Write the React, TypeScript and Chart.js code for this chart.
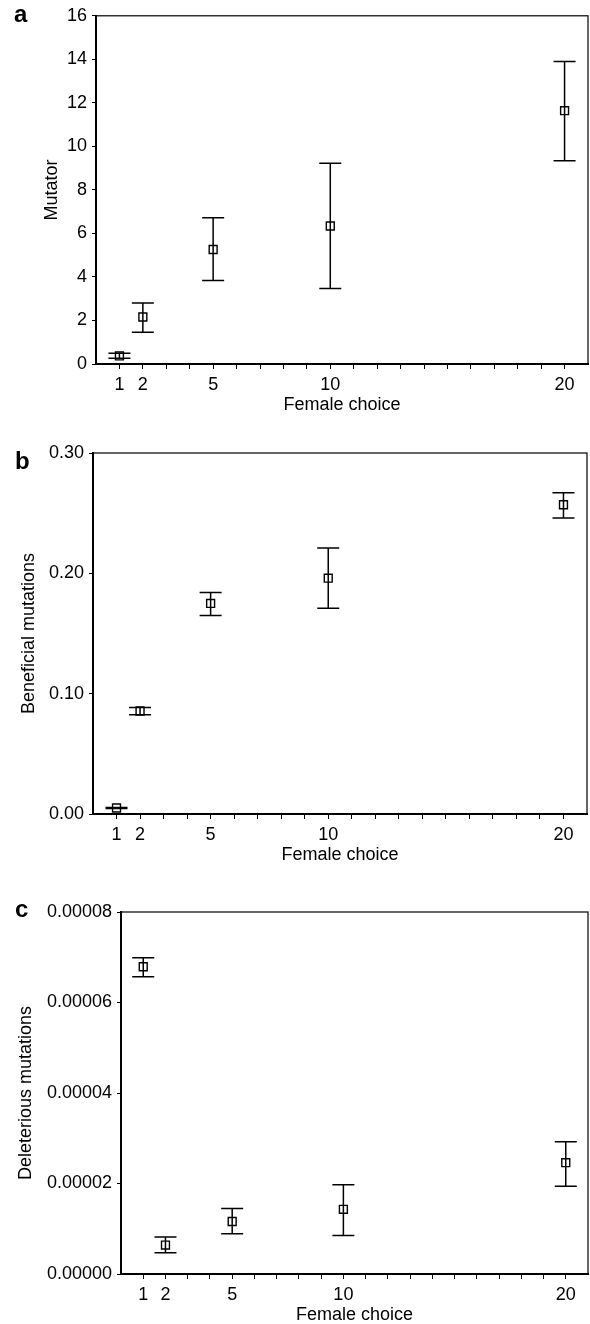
import React, { useEffect, useRef } from 'react';
import { Chart, registerables } from 'chart.js';

Chart.register(...registerables);

// ---- data ----
const femaleChoice = [1, 2, 5, 10, 20];

const mutatorMean = [0.37, 2.16, 5.26, 6.34, 11.64];
const mutatorLow = [0.26, 1.46, 3.84, 3.47, 9.34];
const mutatorHigh = [0.49, 2.8, 6.72, 9.23, 13.9];

const beneficialMean = [0.005, 0.0856, 0.175, 0.196, 0.257];
const beneficialLow = [0.0045, 0.0825, 0.165, 0.171, 0.246];
const beneficialHigh = [0.0055, 0.0886, 0.184, 0.221, 0.267];

const deleteriousMean = [0.0000679, 0.0000064, 0.0000116, 0.0000143, 0.0000246];
const deleteriousLow = [0.0000657, 0.0000047, 0.0000089, 0.0000085, 0.0000194];
const deleteriousHigh = [0.0000699, 0.0000082, 0.0000145, 0.0000197, 0.0000292];

const xTickValues = [1, 2, 3, 4, 5, 6, 7, 8, 9, 10, 11, 12, 13, 14, 15, 16, 17, 18, 19, 20];
const xLabelValues = [1, 2, 5, 10, 20];
const mutatorTicks = [0, 2, 4, 6, 8, 10, 12, 14, 16];
const beneficialTicks = [0, 0.1, 0.2, 0.3];
const deleteriousTicks = [0, 0.00002, 0.00004, 0.00006, 0.00008];

const FONT = '"Liberation Sans", Arial, Helvetica, sans-serif';
const W = 590;

type Panel = {
  letter: string;
  yTitle: string;
  mean: number[];
  low: number[];
  high: number[];
  yTicks: number[];
  yDecimals: number;
  canvasTop: number;
  canvasHeight: number;
  chartLeft: number;
  chartRight: number;
  chartTop: number;
  chartBottom: number;
  yTitlePad: number;
  xTitlePad: number;
  letterX: number;
  letterBaseline: number;
};

const panels: Panel[] = [
  {
    letter: 'a', yTitle: 'Mutator', mean: mutatorMean, low: mutatorLow, high: mutatorHigh,
    yTicks: mutatorTicks, yDecimals: 0,
    canvasTop: 0, canvasHeight: 430, chartLeft: 96, chartRight: 588, chartTop: 14, chartBottom: 364,
    yTitlePad: 43, xTitlePad: 16, letterX: 14, letterBaseline: 22,
  },
  {
    letter: 'b', yTitle: 'Beneficial mutations', mean: beneficialMean, low: beneficialLow, high: beneficialHigh,
    yTicks: beneficialTicks, yDecimals: 2,
    canvasTop: 430, canvasHeight: 445, chartLeft: 93, chartRight: 587, chartTop: 453, chartBottom: 814,
    yTitlePad: 20, xTitlePad: 11, letterX: 15, letterBaseline: 469,
  },
  {
    letter: 'c', yTitle: 'Deleterious mutations', mean: deleteriousMean, low: deleteriousLow, high: deleteriousHigh,
    yTicks: deleteriousTicks, yDecimals: 5,
    canvasTop: 875, canvasHeight: 449, chartLeft: 121, chartRight: 588, chartTop: 912, chartBottom: 1274,
    yTitlePad: 17, xTitlePad: 0, letterX: 15, letterBaseline: 917,
  },
];

function makePlugin(p: Panel) {
  return {
    id: 'errbars' + p.letter,
    afterDatasetsDraw(chart: any) {
      const { ctx, chartArea } = chart;
      const x = chart.scales.x;
      const y = chart.scales.y;
      ctx.save();
      ctx.strokeStyle = '#000';
      ctx.lineWidth = 1.2;
      ctx.strokeRect(chartArea.left, chartArea.top, chartArea.right - chartArea.left, chartArea.bottom - chartArea.top);
      ctx.lineWidth = 1.5;
      femaleChoice.forEach((fx, i) => {
        const px = x.getPixelForValue(fx);
        const yl = y.getPixelForValue(p.low[i]);
        const yh = y.getPixelForValue(p.high[i]);
        ctx.beginPath();
        ctx.moveTo(px, yl);
        ctx.lineTo(px, yh);
        ctx.moveTo(px - 11, yl);
        ctx.lineTo(px + 11, yl);
        ctx.moveTo(px - 11, yh);
        ctx.lineTo(px + 11, yh);
        ctx.stroke();
      });
      ctx.font = `bold 24px ${FONT}`;
      ctx.fillStyle = '#000';
      ctx.textAlign = 'left';
      ctx.textBaseline = 'alphabetic';
      ctx.fillText(p.letter, p.letterX, p.letterBaseline - p.canvasTop);
      ctx.restore();
    },
  };
}

function PanelChart({ p }: { p: Panel }) {
  const ref = useRef<HTMLCanvasElement>(null);
  useEffect(() => {
    if (!ref.current) return;
    const chart = new Chart(ref.current, {
      type: 'scatter',
      data: {
        datasets: [
          {
            data: femaleChoice.map((fx, i) => ({ x: fx, y: p.mean[i] })),
            pointStyle: 'rect',
            pointRadius: 5.6,
            pointBackgroundColor: 'rgba(0,0,0,0)',
            pointBorderColor: '#000',
            pointBorderWidth: 1.4,
            showLine: false,
          },
        ],
      },
      options: {
        animation: false,
        responsive: false,
        maintainAspectRatio: false,
        events: [],
        layout: {
          autoPadding: false,
          padding: { left: 0, right: W - p.chartRight, top: p.chartTop - p.canvasTop, bottom: 0 },
        },
        plugins: { legend: { display: false }, tooltip: { enabled: false } },
        scales: {
          x: {
            type: 'linear',
            min: 0,
            max: 21,
            afterFit: (s: any) => { s.height = p.canvasTop + p.canvasHeight - p.chartBottom; },
            afterBuildTicks: (s: any) => { s.ticks = xTickValues.map((v) => ({ value: v })); },
            ticks: {
              autoSkip: false,
              maxRotation: 0,
              padding: 5,
              color: '#000',
              font: { family: FONT, size: 18 },
              callback: (v: any) => (xLabelValues.includes(Number(v)) ? String(v) : ''),
            },
            grid: { display: true, drawOnChartArea: false, drawTicks: true, tickLength: 5, color: '#000', lineWidth: 1 },
            border: { display: true, color: '#000', width: 2 },
            title: {
              display: true,
              text: 'Female choice',
              color: '#000',
              font: { family: FONT, size: 18, lineHeight: 1 },
              padding: { top: 0, bottom: p.xTitlePad },
            },
          },
          y: {
            type: 'linear',
            min: p.yTicks[0],
            max: p.yTicks[p.yTicks.length - 1],
            afterFit: (s: any) => { s.width = p.chartLeft; },
            afterBuildTicks: (s: any) => { s.ticks = p.yTicks.map((v) => ({ value: v })); },
            ticks: {
              autoSkip: false,
              padding: 5,
              color: '#000',
              font: { family: FONT, size: 18 },
              callback: (v: any) => Number(v).toFixed(p.yDecimals),
            },
            grid: { display: true, drawOnChartArea: false, drawTicks: true, tickLength: 4, color: '#000', lineWidth: 1 },
            border: { display: true, color: '#000', width: 2 },
            title: {
              display: true,
              text: p.yTitle,
              color: '#000',
              font: { family: FONT, size: 18, lineHeight: 1 },
              padding: { top: p.yTitlePad, bottom: 0 },
            },
          },
        },
      },
      plugins: [makePlugin(p)],
    } as any);
    return () => chart.destroy();
  }, [p]);
  return (
    <canvas
      ref={ref}
      width={W}
      height={p.canvasHeight}
      style={{ position: 'absolute', left: 0, top: p.canvasTop, width: W, height: p.canvasHeight, display: 'block' }}
    />
  );
}

export default function App() {
  return (
    <div style={{ position: 'absolute', left: 0, top: 0, width: W, height: 1324, background: '#fff' }}>
      {panels.map((p) => (
        <PanelChart key={p.letter} p={p} />
      ))}
    </div>
  );
}
